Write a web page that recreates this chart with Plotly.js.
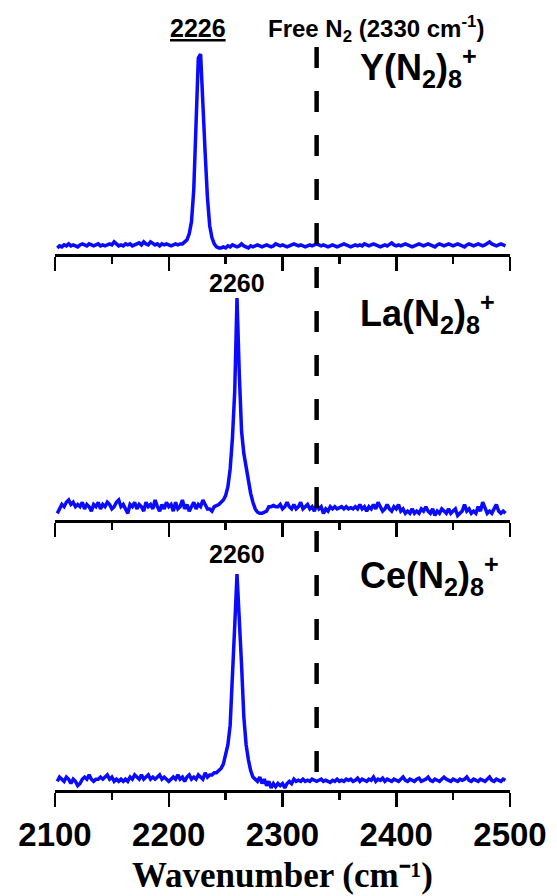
<!DOCTYPE html>
<html>
<head>
<meta charset="utf-8">
<script src="https://cdn.plot.ly/plotly-3.0.1.min.js"></script>
<style>html,body{margin:0;padding:0;background:#fff;}#chart{width:557px;height:896px;}</style>
</head>
<body>
<div id="chart"></div>
<script>
// Wavenumber grid (cm-1), shared by the three spectra
const wavenumber = [
2102,2104,2106,2108,2110,2112,2114,2116,2118,2120,
2122,2124,2126,2128,2130,2132,2134,2136,2138,2140,
2142,2144,2146,2148,2150,2152,2154,2156,2158,2160,
2162,2164,2166,2168,2170,2172,2174,2176,2178,2180,
2182,2184,2186,2188,2190,2192,2194,2196,2198,2200,
2202,2204,2206,2208,2210,2212,2214,2216,2218,2220,
2222,2224,2226,2228,2230,2232,2234,2236,2238,2240,
2242,2244,2246,2248,2250,2252,2254,2256,2258,2260,
2262,2264,2266,2268,2270,2272,2274,2276,2278,2280,
2282,2284,2286,2288,2290,2292,2294,2296,2298,2300,
2302,2304,2306,2308,2310,2312,2314,2316,2318,2320,
2322,2324,2326,2328,2330,2332,2334,2336,2338,2340,
2342,2344,2346,2348,2350,2352,2354,2356,2358,2360,
2362,2364,2366,2368,2370,2372,2374,2376,2378,2380,
2382,2384,2386,2388,2390,2392,2394,2396,2398,2400,
2402,2404,2406,2408,2410,2412,2414,2416,2418,2420,
2422,2424,2426,2428,2430,2432,2434,2436,2438,2440,
2442,2444,2446,2448,2450,2452,2454,2456,2458,2460,
2462,2464,2466,2468,2470,2472,2474,2476,2478,2480,
2482,2484,2486,2488,2490,2492,2494,2496];

// Y(N2)8+ intensity (normalised)
const intensityY = [
0.03,0.04,0.035,0.045,0.04,0.05,0.04,0.045,0.04,0.035,
0.045,0.05,0.045,0.04,0.05,0.045,0.04,0.045,0.05,0.04,
0.045,0.04,0.045,0.05,0.045,0.06,0.05,0.04,0.045,0.04,
0.05,0.045,0.05,0.04,0.045,0.05,0.055,0.045,0.06,0.05,
0.045,0.06,0.05,0.045,0.05,0.04,0.05,0.045,0.05,0.045,
0.04,0.045,0.05,0.045,0.05,0.05,0.06,0.07,0.10,0.16,
0.32,0.62,0.97,0.99,0.78,0.50,0.28,0.14,0.08,0.05,
0.035,0.03,0.03,0.035,0.03,0.04,0.035,0.045,0.04,0.035,
0.04,0.05,0.04,0.035,0.03,0.04,0.035,0.04,0.045,0.04,
0.035,0.04,0.045,0.04,0.035,0.04,0.05,0.045,0.04,0.045,
0.04,0.035,0.04,0.045,0.05,0.045,0.04,0.045,0.04,0.035,
0.04,0.045,0.04,0.045,0.05,0.045,0.04,0.045,0.04,0.035,
0.04,0.045,0.04,0.035,0.04,0.045,0.05,0.045,0.04,0.035,
0.04,0.045,0.04,0.045,0.04,0.05,0.045,0.04,0.045,0.05,
0.045,0.04,0.035,0.04,0.045,0.04,0.05,0.055,0.045,0.04,
0.045,0.04,0.045,0.05,0.045,0.04,0.035,0.04,0.045,0.05,
0.045,0.04,0.045,0.05,0.045,0.04,0.035,0.045,0.05,0.045,
0.04,0.045,0.05,0.045,0.04,0.045,0.05,0.045,0.04,0.035,
0.045,0.05,0.045,0.04,0.045,0.05,0.045,0.04,0.045,0.055,
0.06,0.05,0.045,0.04,0.045,0.05,0.045,0.04];

// La(N2)8+ intensity (normalised)
const intensityLa = [
0.03,0.05,0.07,0.06,0.08,0.09,0.07,0.08,0.06,0.07,
0.06,0.08,0.05,0.07,0.06,0.04,0.07,0.06,0.08,0.05,
0.07,0.06,0.08,0.07,0.05,0.06,0.08,0.09,0.06,0.07,
0.05,0.03,0.07,0.06,0.08,0.05,0.07,0.06,0.04,0.08,
0.06,0.07,0.05,0.09,0.06,0.04,0.07,0.05,0.08,0.06,
0.07,0.04,0.08,0.05,0.06,0.09,0.05,0.07,0.04,0.06,
0.08,0.05,0.07,0.06,0.09,0.07,0.05,0.05,0.04,0.06,
0.065,0.07,0.08,0.09,0.11,0.15,0.23,0.37,0.58,1.00,
0.66,0.40,0.30,0.24,0.17,0.12,0.08,0.05,0.035,0.03,
0.03,0.035,0.04,0.06,0.06,0.065,0.06,0.06,0.07,0.05,
0.06,0.08,0.06,0.05,0.07,0.05,0.06,0.08,0.05,0.06,
0.07,0.05,0.06,0.04,0.07,0.05,0.06,0.03,0.05,0.04,
0.06,0.05,0.06,0.05,0.055,0.06,0.05,0.06,0.05,0.055,
0.05,0.06,0.05,0.07,0.05,0.06,0.04,0.06,0.05,0.07,
0.05,0.08,0.06,0.04,0.05,0.07,0.05,0.04,0.06,0.05,
0.07,0.04,0.05,0.03,0.04,0.03,0.05,0.03,0.04,0.03,
0.05,0.04,0.06,0.04,0.03,0.05,0.02,0.04,0.03,0.05,
0.04,0.03,0.05,0.03,0.04,0.05,0.02,0.03,0.04,0.07,
0.04,0.05,0.03,0.04,0.03,0.06,0.04,0.08,0.05,0.03,
0.04,0.03,0.05,0.07,0.04,0.03,0.04,0.03];

// Ce(N2)8+ intensity (normalised)
const intensityCe = [
0.04,0.06,0.05,0.04,0.06,0.05,0.03,0.05,0.04,0.02,
0.03,0.05,0.06,0.05,0.07,0.05,0.04,0.05,0.05,0.06,
0.05,0.06,0.07,0.05,0.06,0.04,0.05,0.04,0.05,0.04,
0.05,0.04,0.06,0.05,0.07,0.06,0.05,0.07,0.05,0.06,
0.07,0.05,0.06,0.05,0.06,0.07,0.05,0.06,0.05,0.04,
0.05,0.06,0.05,0.07,0.05,0.06,0.04,0.06,0.07,0.05,
0.06,0.05,0.07,0.06,0.05,0.08,0.06,0.07,0.07,0.08,
0.08,0.09,0.10,0.12,0.16,0.21,0.30,0.50,0.76,1.00,
0.82,0.58,0.34,0.21,0.14,0.09,0.06,0.05,0.04,0.06,
0.03,0.05,0.02,0.04,0.01,0.03,0.015,0.03,0.02,0.03,
0.01,0.03,0.04,0.03,0.05,0.04,0.045,0.04,0.05,0.04,
0.045,0.04,0.05,0.045,0.04,0.045,0.05,0.04,0.045,0.04,
0.035,0.045,0.04,0.05,0.04,0.045,0.04,0.05,0.045,0.05,
0.04,0.045,0.055,0.04,0.05,0.045,0.04,0.05,0.045,0.06,
0.04,0.05,0.045,0.055,0.04,0.05,0.045,0.04,0.05,0.045,
0.04,0.05,0.06,0.045,0.04,0.05,0.045,0.04,0.05,0.055,
0.04,0.045,0.05,0.06,0.045,0.04,0.05,0.045,0.04,0.05,
0.06,0.05,0.045,0.04,0.05,0.045,0.04,0.05,0.045,0.05,
0.06,0.045,0.04,0.05,0.045,0.04,0.05,0.045,0.04,0.05,
0.06,0.045,0.04,0.05,0.045,0.04,0.05,0.045];

const xTicks = [2100, 2200, 2300, 2400, 2500];
const freeN2 = 2330;
const peakLabels = ['<u>2226</u>', '2260', '2260'];
const peakPositions = [2226, 2260, 2260];
const speciesLabels = [
  'Y(N<sub>2</sub>)<sub>8</sub><sup>+</sup>',
  'La(N<sub>2</sub>)<sub>8</sub><sup>+</sup>',
  'Ce(N<sub>2</sub>)<sub>8</sub><sup>+</sup>'
];
const xTitle = 'Wavenumber (cm\u207B\u00B9)';

// ---- layout geometry (pixels) ----
const W = 557, H = 896;
const xl = 55, xr = 510;
const panels = [ // axis line y, peak height px, top y
  {bottom: 254, unit: 202, top: 12},
  {bottom: 520, unit: 222, top: 270},
  {bottom: 790, unit: 216, top: 545}
];
const fy = p => 1 - p / H;
const fx = p => p / W;

const blue = 'rgb(10,10,255)';
const series = [intensityY, intensityLa, intensityCe];
const traces = series.map((s, i) => ({
  x: wavenumber, y: s, type: 'scatter', mode: 'lines',
  xaxis: i === 0 ? 'x' : 'x' + (i + 1),
  yaxis: i === 0 ? 'y' : 'y' + (i + 1),
  line: {color: blue, width: 3.5},
  hoverinfo: 'skip', showlegend: false
}));

const sans = 'Liberation Sans, Arial, Helvetica, sans-serif';
const layout = {
  width: W, height: H,
  margin: {l: 0, r: 0, t: 0, b: 0},
  paper_bgcolor: '#fff', plot_bgcolor: 'rgba(0,0,0,0)',
  showlegend: false,
  annotations: [], shapes: []
};

panels.forEach((p, i) => {
  const xa = i === 0 ? 'xaxis' : 'xaxis' + (i + 1);
  const ya = i === 0 ? 'yaxis' : 'yaxis' + (i + 1);
  const yid = i === 0 ? 'y' : 'y' + (i + 1);
  layout[xa] = {
    domain: [fx(xl), fx(xr)], range: [2100, 2500], anchor: yid,
    showline: true, linecolor: '#000', linewidth: 2.5,
    ticks: 'outside', ticklen: 14, tickwidth: 2.5, tickcolor: '#000',
    tickvals: xTicks, ticktext: xTicks.map(String),
    showticklabels: i === 2,
    tickfont: {family: sans, size: 33, color: '#000', weight: 'bold'},
    minor: {dtick: 50, tick0: 2100, ticks: 'outside', ticklen: 7, tickwidth: 2.5, tickcolor: '#000', showgrid: false},
    showgrid: false, zeroline: false, fixedrange: true
  };
  layout[ya] = {
    domain: [fy(p.bottom), fy(p.top)],
    range: [0, (p.bottom - p.top) / p.unit],
    visible: false, fixedrange: true
  };
});

// x-axis title (placed explicitly under the bottom axis)
layout.annotations.push({
  text: xTitle, xref: 'paper', x: fx((xl + xr) / 2), yref: 'paper', y: 0,
  xanchor: 'center', yanchor: 'bottom', showarrow: false, borderpad: 0,
  font: {family: 'Liberation Serif, Times New Roman, serif', size: 35, color: '#000', weight: 'bold'}
});

// peak labels
const peakLabelY = [28, 283, 554];
peakLabels.forEach((t, i) => {
  layout.annotations.push({
    text: t, xref: i === 0 ? 'x' : 'x' + (i + 1), x: peakPositions[i],
    yref: 'paper', y: fy(peakLabelY[i]), xanchor: 'center', yanchor: 'middle',
    showarrow: false, font: {family: sans, size: 25, color: '#000', weight: 'bold'}
  });
});
// species labels
const speciesY = [68, 313, 575];
speciesLabels.forEach((t, i) => {
  layout.annotations.push({
    text: t, xref: 'paper', x: fx(358), yref: 'paper', y: fy(speciesY[i]),
    xanchor: 'left', yanchor: 'middle', showarrow: false,
    font: {family: sans, size: 36, color: '#000', weight: 'bold'}
  });
});
// free N2 label
layout.annotations.push({
  text: 'Free N<sub>2</sub> (2330 cm<sup>-1</sup>)', xref: 'paper', x: fx(266),
  yref: 'paper', y: fy(29), xanchor: 'left', yanchor: 'middle', showarrow: false,
  font: {family: sans, size: 24, color: '#000', weight: 'bold'}
});
// free N2 dashed line
layout.shapes.push({
  type: 'line', xref: 'x3', x0: freeN2, x1: freeN2,
  yref: 'paper', y0: fy(47), y1: fy(778),
  line: {color: '#000', width: 4.5, dash: '21px,23px'}
});

Plotly.newPlot('chart', traces, layout, {displayModeBar: false, staticPlot: true});
</script>
</body>
</html>
